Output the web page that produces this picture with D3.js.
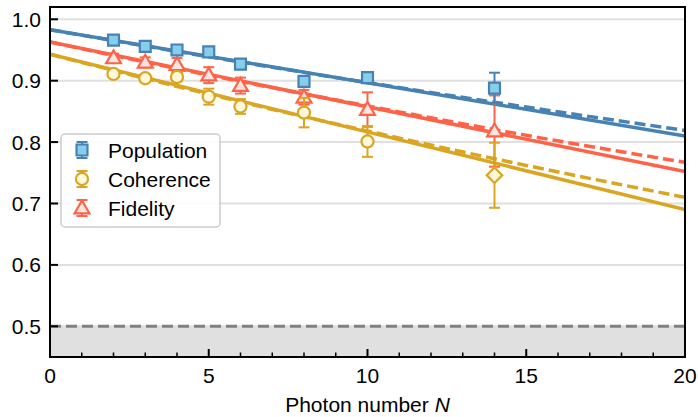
<!DOCTYPE html>
<html>
<head>
<meta charset="utf-8">
<script src="https://cdn.jsdelivr.net/npm/d3@7"></script>
<style>
  body { margin: 0; background: #fff; }
  text { font-family: "Liberation Sans", Arial, sans-serif; }
</style>
</head>
<body>
<div id="chart"></div>
<script>
// measured photon numbers
var photonN = [2, 3, 4, 5, 6, 8, 10, 14];

var popVals = [0.966, 0.956, 0.950, 0.947, 0.927, 0.899, 0.905, 0.888];
var popErr  = [0.004, 0.004, 0.004, 0.004, 0.004, 0.006, 0.006, 0.025];

var cohVals = [0.911, 0.904, 0.906, 0.874, 0.858, 0.848, 0.801, 0.746];
var cohErr  = [0.005, 0.006, 0.007, 0.013, 0.012, 0.024, 0.025, 0.053];

var fidVals = [0.937, 0.930, 0.926, 0.909, 0.892, 0.873, 0.853, 0.818];
var fidErr  = [0.007, 0.008, 0.011, 0.013, 0.013, 0.012, 0.028, 0.058];

// linear fits (solid)
var fitN   = [0, 20];
var popFit = [0.983, 0.810];
var cohFit = [0.943, 0.690];
var fidFit = [0.963, 0.752];

// exponential fits (dashed)
var dashN   = [0, 5, 10, 15, 20];
var popDash = [0.983, 0.939, 0.897, 0.857, 0.819];
var cohDash = [0.943, 0.878, 0.818, 0.762, 0.710];
var fidDash = [0.963, 0.909, 0.859, 0.811, 0.767];

var xTicks = [0, 5, 10, 15, 20];
var yTicks = [0.5, 0.6, 0.7, 0.8, 0.9, 1.0];
var classicalLimit = 0.5;

var svgWidth = 698;
var svgHeight = 417;
var margin = { top: 7, right: 13, bottom: 60, left: 50 };
var width = svgWidth - margin.left - margin.right;
var height = svgHeight - margin.top - margin.bottom;
var fontSize = 21;

var svg = d3.select("#chart").append("svg")
  .attr("width", svgWidth)
  .attr("height", svgHeight);

var chartGroup = svg.append("g")
  .attr("transform", `translate(${margin.left}, ${margin.top})`);

var x = d3.scaleLinear().domain([0, 20]).range([0, width]);
var y = d3.scaleLinear().domain([0.45, 1.02]).range([height, 0]);

chartGroup.append("defs").append("clipPath").attr("id", "plotclip")
  .append("rect").attr("width", width).attr("height", height);

// shaded region below classical limit
chartGroup.append("rect")
  .attr("x", 0).attr("width", width)
  .attr("y", y(classicalLimit)).attr("height", height - y(classicalLimit))
  .attr("fill", "#e0e0e0");

// gridlines
chartGroup.selectAll(".grid")
  .data(yTicks)
  .enter()
  .append("line")
  .attr("x1", 0).attr("x2", width)
  .attr("y1", d => y(d)).attr("y2", d => y(d))
  .attr("stroke", "#e0e0e0")
  .attr("stroke-width", 2);

chartGroup.append("line")
  .attr("x1", 0).attr("x2", width)
  .attr("y1", y(classicalLimit)).attr("y2", y(classicalLimit))
  .attr("stroke", "#808080")
  .attr("stroke-width", 3)
  .attr("stroke-dasharray", "11,5");

var series = [
  { name: "Fidelity", vals: fidVals, err: fidErr, fit: fidFit, dash: fidDash,
    color: "#ff6347", fill: "#ffe4e1", shape: "triangle" },
  { name: "Coherence", vals: cohVals, err: cohErr, fit: cohFit, dash: cohDash,
    color: "#daa520", fill: "#fff8dc", shape: "circle" },
  { name: "Population", vals: popVals, err: popErr, fit: popFit, dash: popDash,
    color: "#4682b4", fill: "#87ceeb", shape: "square" }
];

var lines = chartGroup.append("g").attr("clip-path", "url(#plotclip)");

series.forEach(function(s) {
  var dashLine = d3.line()
    .x((d, i) => x(dashN[i]))
    .y(d => y(d))
    .curve(d3.curveNatural);
  lines.append("path")
    .attr("d", dashLine(s.dash))
    .attr("fill", "none")
    .attr("stroke", s.color)
    .attr("stroke-width", 3.5)
    .attr("stroke-dasharray", "11,5");

  var fitLine = d3.line()
    .x((d, i) => x(fitN[i]))
    .y(d => y(d));
  lines.append("path")
    .attr("d", fitLine(s.fit))
    .attr("fill", "none")
    .attr("stroke", s.color)
    .attr("stroke-width", 3.5);
});

var symbolFor = {
  square: d3.symbol().type(d3.symbolSquare).size(120),
  circle: d3.symbol().type(d3.symbolCircle).size(115),
  triangle: d3.symbol().type(d3.symbolTriangle).size(95),
  diamond: d3.symbol().type(d3.symbolSquare).size(120)
};

function drawErrorbar(g, cx, cy, top, bottom, color) {
  g.append("line")
    .attr("x1", cx).attr("x2", cx)
    .attr("y1", top).attr("y2", bottom)
    .attr("stroke", color).attr("stroke-width", 2);
  [top, bottom].forEach(function(yy) {
    g.append("line")
      .attr("x1", cx - 5.5).attr("x2", cx + 5.5)
      .attr("y1", yy).attr("y2", yy)
      .attr("stroke", color).attr("stroke-width", 2);
  });
}

series.forEach(function(s) {
  var g = chartGroup.append("g");
  photonN.forEach(function(n, i) {
    var cx = x(n), cy = y(s.vals[i]);
    drawErrorbar(g, cx, cy, y(s.vals[i] + s.err[i]), y(s.vals[i] - s.err[i]), s.color);
    var shape = s.shape;
    if (s.name === "Coherence" && n === 14) shape = "diamond";
    var tf = `translate(${cx}, ${cy + (shape === "triangle" ? 1 : 0)})`;
    if (shape === "diamond") tf += " rotate(45)";
    g.append("path")
      .attr("d", symbolFor[shape]())
      .attr("transform", tf)
      .attr("fill", s.fill)
      .attr("stroke", s.color)
      .attr("stroke-width", 2.2);
  });
});

// frame
chartGroup.append("rect")
  .attr("width", width).attr("height", height)
  .attr("fill", "none")
  .attr("stroke", "#000")
  .attr("stroke-width", 2);

// x axis ticks (inward) with minor ticks
var xAxis = chartGroup.append("g").attr("transform", `translate(0, ${height})`);
d3.range(1, 20).forEach(function(n) {
  var major = n % 5 === 0;
  xAxis.append("line")
    .attr("x1", x(n)).attr("x2", x(n))
    .attr("y1", 0).attr("y2", major ? -8 : -4.5)
    .attr("stroke", "#000").attr("stroke-width", major ? 2 : 1.5);
});
xAxis.selectAll(".xlabel")
  .data(xTicks)
  .enter()
  .append("text")
  .attr("x", d => x(d))
  .attr("y", 26)
  .attr("text-anchor", "middle")
  .attr("font-size", fontSize)
  .text(d => d);

// y axis ticks (inward)
var yAxis = chartGroup.append("g");
yTicks.forEach(function(v) {
  yAxis.append("line")
    .attr("x1", 0).attr("x2", 8)
    .attr("y1", y(v)).attr("y2", y(v))
    .attr("stroke", "#000").attr("stroke-width", 2);
});
yAxis.selectAll(".ylabel")
  .data(yTicks)
  .enter()
  .append("text")
  .attr("x", -9)
  .attr("y", d => y(d))
  .attr("dy", "0.36em")
  .attr("text-anchor", "end")
  .attr("font-size", fontSize)
  .text(d => d.toFixed(1));

// axis label
var xLabel = chartGroup.append("text")
  .attr("x", width / 2)
  .attr("y", height + 55)
  .attr("text-anchor", "middle")
  .attr("font-size", fontSize);
xLabel.append("tspan").text("Photon number ");
xLabel.append("tspan").attr("font-style", "italic").text("N");

// legend
var legend = chartGroup.append("g").attr("transform", "translate(11, 127)");
legend.append("rect")
  .attr("width", 159).attr("height", 93)
  .attr("rx", 4)
  .attr("fill", "#fff").attr("fill-opacity", 0.85)
  .attr("stroke", "#cccccc").attr("stroke-width", 1.5);

var legendItems = series.slice().reverse();
legendItems.forEach(function(s, i) {
  var ly = 16 + i * 29;
  var lx = 21;
  drawErrorbar(legend, lx, ly, ly - 8, ly + 8, s.color);
  legend.append("path")
    .attr("d", symbolFor[s.shape]())
    .attr("transform", `translate(${lx}, ${ly + (s.shape === "triangle" ? 1 : 0)})`)
    .attr("fill", s.fill)
    .attr("stroke", s.color)
    .attr("stroke-width", 2.2);
  legend.append("text")
    .attr("x", 47)
    .attr("y", ly)
    .attr("dy", "0.36em")
    .attr("font-size", fontSize)
    .text(s.name);
});
</script>
</body>
</html>
